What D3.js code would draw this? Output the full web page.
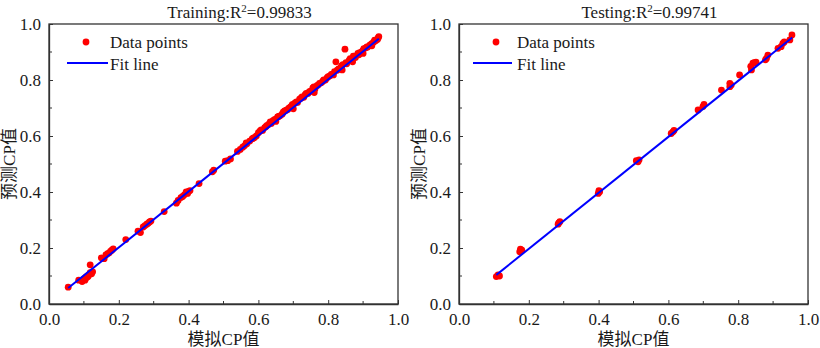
<!DOCTYPE html>
<html><head><meta charset="utf-8">
<script src="https://cdn.jsdelivr.net/npm/d3@7"></script>
<style>
body{margin:0;background:#fff;}
svg{display:block;}
svg text{font-family:"Liberation Serif","Times New Roman","Noto Sans CJK SC",serif;}
</style></head>
<body><svg id="c" width="820" height="348"></svg>
<script>
// ---------- data ----------
const trainTitle = "Training:R", trainR2 = "=0.99833";
const testTitle = "Testing:R", testR2 = "=0.99741";
const xAxisLabel = "模拟CP值", yAxisLabel = "预测CP值";
const legendLabels = ["Data points", "Fit line"];
const tickValues = [0, 0.2, 0.4, 0.6, 0.8, 1.0];
const minorTickValues = [0.1, 0.3, 0.5, 0.7, 0.9];

const trainX = [0.055,0.085,0.095,0.100,0.105,0.110,0.112,0.115,0.118,0.120,0.122,0.125,
  0.150,0.158,0.163,0.168,0.172,0.176,0.180,0.184,0.220,0.255,0.262,0.270,0.275,0.280,0.284,0.288,0.292,
  0.330,0.365,0.370,0.378,0.383,0.388,0.393,0.397,0.400,0.404,0.430,0.468,0.472,
  0.505,0.512,0.520,0.540,0.548,0.555,0.560,0.567,0.575,0.582,0.588,0.594,
  0.600,0.605,0.612,0.618,0.625,0.630,0.637,0.642,0.650,0.655,0.662,0.668,0.675,0.680,0.688,0.693,
  0.700,0.705,0.712,0.718,0.725,0.730,0.737,0.742,0.750,0.756,0.762,0.768,0.775,0.780,0.787,0.792,
  0.800,0.805,0.812,0.818,0.822,0.830,0.835,0.842,0.848,0.853,0.860,0.866,0.872,0.878,0.885,0.890,
  0.896,0.902,0.908,0.913,0.920,0.925,0.930,0.936,0.941,0.945,
  0.700,0.760,0.840,0.900,0.650,0.815,0.870,0.925,
  0.608,0.622,0.634,0.646,0.658,0.671,0.684,0.697,0.709,0.722,0.734,0.746,0.759,0.771,0.784,0.797,
  0.809,0.826,0.838,0.851,0.863,0.875,0.888,0.899,0.911,0.933,0.943,0.585,0.565,0.108,0.103,0.118];
const trainY = [0.060,0.085,0.080,0.090,0.095,0.100,0.098,0.105,0.140,0.110,0.108,0.115,
  0.165,0.162,0.175,0.180,0.182,0.188,0.192,0.197,0.230,0.260,0.255,0.275,0.280,0.285,0.288,0.293,0.296,
  0.330,0.360,0.370,0.380,0.384,0.390,0.400,0.395,0.402,0.405,0.430,0.472,0.478,
  0.510,0.512,0.518,0.545,0.552,0.560,0.565,0.572,0.582,0.590,0.594,0.600,
  0.612,0.618,0.620,0.630,0.638,0.642,0.645,0.655,0.660,0.668,0.672,0.678,0.690,0.692,0.700,0.705,
  0.713,0.718,0.720,0.732,0.740,0.738,0.752,0.752,0.760,0.772,0.768,0.780,0.788,0.790,0.800,0.800,
  0.812,0.815,0.820,0.830,0.865,0.840,0.842,0.855,0.910,0.858,0.870,0.872,0.885,0.880,0.895,0.898,
  0.900,0.912,0.915,0.918,0.925,0.930,0.935,0.940,0.945,0.955,
  0.697,0.755,0.836,0.895,0.652,0.818,0.865,0.922,
  0.622,0.634,0.650,0.658,0.670,0.685,0.695,0.712,0.722,0.735,0.748,0.758,0.775,0.782,0.795,0.808,
  0.820,0.835,0.850,0.862,0.876,0.885,0.890,0.905,0.918,0.942,0.950,0.592,0.575,0.095,0.085,0.112];
const trainFitX = [0.055, 0.945];
const trainFitY = [0.057, 0.947];

const testX = [0.107,0.116,0.112,0.174,0.176,0.180,0.284,0.289,0.286,0.403,0.399,0.401,0.513,0.508,0.516,
  0.613,0.608,0.616,0.685,0.702,0.699,0.752,0.776,0.776,0.780,0.804,0.838,0.842,0.851,0.836,0.846,
  0.881,0.885,0.878,0.914,0.928,0.923,0.932,0.948,0.954];
const testY = [0.098,0.100,0.104,0.187,0.196,0.192,0.285,0.294,0.290,0.401,0.395,0.405,0.508,0.512,0.515,
  0.615,0.609,0.620,0.693,0.713,0.705,0.764,0.788,0.776,0.782,0.818,0.836,0.860,0.864,0.849,0.862,
  0.877,0.889,0.872,0.913,0.931,0.919,0.936,0.943,0.961];
const testFitX = [0.107, 0.955];
const testFitY = [0.104, 0.952];

// ---------- drawing ----------
const svg = d3.select("#c");
const red = "#ff0000", blue = "#0000ff", axisCol = "#333", textCol = "#1a1a1a";
const FONT = "'Liberation Serif', 'Times New Roman', 'Noto Sans CJK SC', serif";

function panel(cfg) {
  const x = d3.scaleLinear().domain([0, 1]).range([cfg.left, cfg.left + 349]);
  const y = d3.scaleLinear().domain([0, 1]).range([304, 24]);
  const g = svg.append("g").attr("font-family", FONT);

  // data points
  g.append("g").selectAll("circle").data(cfg.xs.map((v, i) => [v, cfg.ys[i]]))
    .enter().append("circle")
    .attr("cx", d => x(d[0])).attr("cy", d => y(d[1])).attr("r", 3.4).attr("fill", red);

  // fit line
  g.append("line")
    .attr("x1", x(cfg.fx[0])).attr("y1", y(cfg.fy[0]))
    .attr("x2", x(cfg.fx[1])).attr("y2", y(cfg.fy[1]))
    .attr("stroke", blue).attr("stroke-width", 2);

  // axes
  const xa = g.append("g").attr("transform", "translate(0,304)")
    .call(d3.axisBottom(x).tickValues(tickValues).tickFormat(d3.format(".1f")).tickSizeInner(-4).tickSizeOuter(0).tickPadding(9));
  xa.append("g").selectAll("line").data(minorTickValues).enter().append("line")
    .attr("x1", d => x(d)).attr("x2", d => x(d)).attr("y1", 0).attr("y2", -3).attr("stroke", axisCol);
  const ya = g.append("g").attr("transform", `translate(${cfg.left},0)`)
    .call(d3.axisLeft(y).tickValues(tickValues).tickFormat(d3.format(".1f")).tickSizeInner(-4).tickSizeOuter(0).tickPadding(8));
  ya.append("g").selectAll("line").data(minorTickValues).enter().append("line")
    .attr("y1", d => y(d)).attr("y2", d => y(d)).attr("x1", 0).attr("x2", 3).attr("stroke", axisCol);
  [xa, ya].forEach(a => {
    a.attr("font-family", FONT).attr("font-size", 17);
    a.selectAll("path.domain").attr("stroke", axisCol).attr("stroke-width", 1.3);
    a.selectAll(".tick line").attr("stroke", axisCol);
    a.selectAll("text").attr("font-family", FONT).attr("font-size", 17).attr("fill", textCol);
  });
  // box top/right
  g.append("rect").attr("x", cfg.left).attr("y", 24).attr("width", 349).attr("height", 280)
    .attr("fill", "none").attr("stroke", axisCol).attr("stroke-width", 1.3);

  // title
  const t = g.append("text").attr("x", cfg.left + 174.5 + 16).attr("y", 18)
    .attr("text-anchor", "middle").attr("font-size", 17).attr("fill", textCol);
  t.append("tspan").text(cfg.title);
  t.append("tspan").attr("font-size", 11).attr("dy", -6).text("2");
  t.append("tspan").attr("dy", 6).text(cfg.r2);

  // axis labels
  g.append("text").attr("x", cfg.left + 174.5).attr("y", 345).attr("text-anchor", "middle")
    .attr("font-size", 17).attr("fill", textCol).text(xAxisLabel);
  g.append("text").attr("transform", `translate(${cfg.left - 40},164) rotate(-90)`)
    .attr("text-anchor", "middle").attr("dominant-baseline", "central")
    .attr("font-size", 17).attr("fill", textCol).text(yAxisLabel);

  // legend
  g.append("circle").attr("cx", cfg.left + cfg.lg.dot).attr("cy", 42).attr("r", 3.4).attr("fill", red);
  g.append("text").attr("x", cfg.left + cfg.lg.text).attr("y", 48).attr("font-size", 17).attr("fill", textCol).text(legendLabels[0]);
  g.append("line").attr("x1", cfg.left + cfg.lg.l1).attr("x2", cfg.left + cfg.lg.l2).attr("y1", 63).attr("y2", 63)
    .attr("stroke", blue).attr("stroke-width", 2);
  g.append("text").attr("x", cfg.left + cfg.lg.text).attr("y", 70).attr("font-size", 17).attr("fill", textCol).text(legendLabels[1]);
}

panel({left: 49, xs: trainX, ys: trainY, fx: trainFitX, fy: trainFitY, title: trainTitle, r2: trainR2,
  lg: {dot: 37, text: 61, l1: 18, l2: 59}});
panel({left: 459, xs: testX, ys: testY, fx: testFitX, fy: testFitY, title: testTitle, r2: testR2,
  lg: {dot: 37, text: 58, l1: 14, l2: 53}});
</script></body></html>
